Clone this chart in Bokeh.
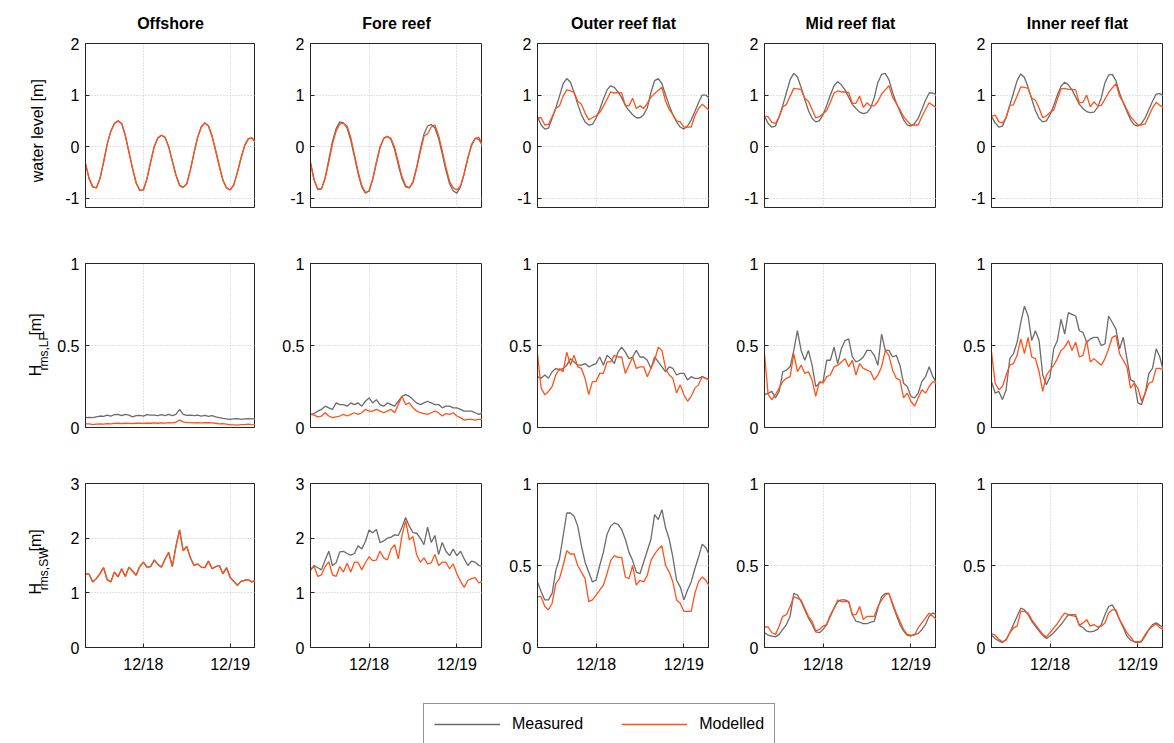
from datetime import datetime, timedelta

import numpy as np
from bokeh.plotting import figure
from bokeh.layouts import gridplot, column
from bokeh.models import (Range1d, FixedTicker, DatetimeTickFormatter,
                          NumeralTickFormatter, Legend, LegendItem)
from bokeh.core.properties import value
from bokeh.embed import file_html
from bokeh.resources import INLINE

# ---------------------------------------------------------------- data
# hourly records, 17 Dec 08:00 -> 19 Dec 07:00
sites = ["Offshore", "Fore reef", "Outer reef flat", "Mid reef flat", "Inner reef flat"]
tick_days = ["12/18", "12/19"]

# water level [m]
wl_offshore_mod = [-0.33, -0.62, -0.78, -0.80, -0.62, -0.30, 0.05, 0.30, 0.45, 0.50, 0.45, 0.22,
                   -0.10, -0.42, -0.70, -0.85, -0.84, -0.62, -0.30, 0.00, 0.17, 0.22, 0.18, 0.00,
                   -0.28, -0.55, -0.75, -0.79, -0.72, -0.45, -0.12, 0.18, 0.38, 0.46, 0.40, 0.20,
                   -0.08, -0.38, -0.65, -0.80, -0.84, -0.74, -0.50, -0.22, 0.02, 0.15, 0.17, 0.08]
# the model is forced with the offshore record, so both coincide there
wl_offshore_meas = list(wl_offshore_mod)
wl_fore_meas = [-0.30, -0.65, -0.83, -0.82, -0.60, -0.25, 0.10, 0.35, 0.48, 0.46, 0.36, 0.12,
                -0.20, -0.52, -0.78, -0.90, -0.86, -0.64, -0.32, -0.02, 0.16, 0.20, 0.14, -0.06,
                -0.36, -0.62, -0.78, -0.80, -0.68, -0.40, -0.06, 0.24, 0.40, 0.43, 0.36, 0.16,
                -0.14, -0.46, -0.72, -0.86, -0.90, -0.78, -0.52, -0.22, 0.04, 0.16, 0.14, 0.02]
wl_fore_mod = [-0.33, -0.65, -0.82, -0.82, -0.62, -0.30, 0.05, 0.30, 0.44, 0.45, 0.40, 0.18,
               -0.15, -0.48, -0.75, -0.89, -0.86, -0.62, -0.30, 0.00, 0.16, 0.20, 0.16, -0.02,
               -0.30, -0.58, -0.76, -0.80, -0.70, -0.42, -0.10, 0.20, 0.25, 0.38, 0.42, 0.22,
               -0.08, -0.40, -0.67, -0.80, -0.84, -0.76, -0.52, -0.22, 0.02, 0.16, 0.18, 0.03]
wl_outer_meas = [0.58, 0.42, 0.34, 0.36, 0.55, 0.75, 0.98, 1.22, 1.32, 1.25, 1.05, 0.82,
                 0.62, 0.48, 0.42, 0.43, 0.55, 0.72, 0.92, 1.10, 1.18, 1.15, 1.06, 0.95,
                 0.80, 0.70, 0.62, 0.56, 0.56, 0.62, 0.75, 1.05, 1.28, 1.32, 1.22, 1.00,
                 0.80, 0.62, 0.48, 0.38, 0.34, 0.40, 0.52, 0.68, 0.85, 1.00, 1.00, 0.93]
wl_outer_mod = [0.56, 0.56, 0.42, 0.43, 0.58, 0.74, 0.79, 0.98, 1.10, 1.08, 1.05, 0.88,
                0.82, 0.65, 0.52, 0.56, 0.60, 0.66, 0.78, 0.92, 1.06, 1.04, 1.05, 1.04,
                0.80, 0.79, 0.94, 0.74, 0.79, 0.74, 0.84, 0.96, 1.03, 1.09, 1.15, 0.88,
                0.72, 0.62, 0.50, 0.48, 0.38, 0.38, 0.38, 0.60, 0.74, 0.82, 0.76, 0.70]
wl_mid_meas = [0.59, 0.45, 0.38, 0.40, 0.58, 0.80, 1.05, 1.30, 1.42, 1.35, 1.15, 0.92,
               0.70, 0.55, 0.48, 0.50, 0.62, 0.80, 1.00, 1.18, 1.26, 1.20, 1.10, 0.96,
               0.82, 0.74, 0.67, 0.64, 0.66, 0.75, 0.95, 1.25, 1.40, 1.42, 1.30, 1.05,
               0.85, 0.68, 0.52, 0.42, 0.40, 0.45, 0.55, 0.72, 0.90, 1.04, 1.04, 1.00]
wl_mid_mod = [0.59, 0.58, 0.47, 0.45, 0.58, 0.77, 0.82, 0.98, 1.13, 1.12, 1.11, 0.94,
              0.88, 0.72, 0.56, 0.58, 0.64, 0.70, 0.86, 1.04, 1.08, 1.06, 1.06, 1.05,
              0.84, 0.84, 0.98, 0.76, 0.85, 0.79, 0.79, 0.88, 1.02, 1.10, 1.18, 0.96,
              0.84, 0.72, 0.58, 0.50, 0.42, 0.42, 0.42, 0.58, 0.72, 0.85, 0.80, 0.76]
wl_inner_meas = [0.59, 0.46, 0.38, 0.40, 0.57, 0.80, 1.04, 1.28, 1.41, 1.34, 1.15, 0.92,
                 0.70, 0.55, 0.48, 0.50, 0.62, 0.80, 1.00, 1.17, 1.25, 1.20, 1.10, 0.96,
                 0.82, 0.74, 0.68, 0.66, 0.67, 0.76, 0.95, 1.24, 1.39, 1.40, 1.28, 1.04,
                 0.85, 0.68, 0.52, 0.42, 0.40, 0.45, 0.56, 0.72, 0.88, 1.02, 1.03, 0.98]
wl_inner_mod = [0.59, 0.61, 0.48, 0.46, 0.56, 0.80, 0.81, 0.98, 1.16, 1.15, 1.13, 0.94,
                0.90, 0.75, 0.56, 0.60, 0.66, 0.71, 0.92, 1.12, 1.13, 1.11, 1.11, 1.10,
                0.85, 0.86, 1.00, 0.77, 0.87, 0.79, 0.80, 0.92, 1.05, 1.14, 1.22, 0.98,
                0.86, 0.72, 0.58, 0.50, 0.42, 0.42, 0.44, 0.60, 0.75, 0.86, 0.80, 0.76]

# low-frequency wave height Hrms,LF [m]
lf_offshore_meas = [0.060, 0.062, 0.060, 0.065, 0.070, 0.068, 0.075, 0.070, 0.078, 0.080, 0.072, 0.080,
                    0.075, 0.065, 0.072, 0.074, 0.070, 0.078, 0.075, 0.076, 0.072, 0.078, 0.072, 0.080,
                    0.072, 0.080, 0.110, 0.080, 0.074, 0.076, 0.072, 0.076, 0.070, 0.074, 0.068, 0.072,
                    0.065, 0.060, 0.055, 0.052, 0.050, 0.052, 0.054, 0.050, 0.052, 0.054, 0.052, 0.054]
lf_offshore_mod = [0.022, 0.022, 0.018, 0.020, 0.022, 0.020, 0.024, 0.022, 0.025, 0.026, 0.024, 0.026,
                   0.025, 0.024, 0.026, 0.026, 0.025, 0.027, 0.026, 0.028, 0.026, 0.028, 0.027, 0.030,
                   0.028, 0.032, 0.045, 0.034, 0.030, 0.030, 0.028, 0.030, 0.028, 0.030, 0.029, 0.028,
                   0.026, 0.022, 0.024, 0.020, 0.016, 0.016, 0.015, 0.017, 0.018, 0.020, 0.017, 0.016]
lf_fore_meas = [0.08, 0.085, 0.10, 0.11, 0.13, 0.12, 0.11, 0.15, 0.14, 0.14, 0.13, 0.15,
                0.14, 0.15, 0.13, 0.16, 0.18, 0.15, 0.17, 0.14, 0.13, 0.15, 0.14, 0.13,
                0.16, 0.19, 0.20, 0.19, 0.17, 0.15, 0.14, 0.15, 0.16, 0.15, 0.14, 0.14,
                0.12, 0.13, 0.13, 0.12, 0.12, 0.11, 0.10, 0.10, 0.10, 0.09, 0.08, 0.09]
lf_fore_mod = [0.08, 0.075, 0.065, 0.07, 0.09, 0.07, 0.06, 0.065, 0.07, 0.08, 0.07, 0.08,
               0.09, 0.08, 0.09, 0.11, 0.10, 0.10, 0.11, 0.10, 0.09, 0.10, 0.11, 0.09,
               0.14, 0.19, 0.14, 0.15, 0.12, 0.10, 0.09, 0.085, 0.08, 0.09, 0.10, 0.09,
               0.07, 0.085, 0.08, 0.09, 0.07, 0.06, 0.045, 0.05, 0.05, 0.045, 0.05, 0.05]
lf_outer_meas = [0.31, 0.30, 0.32, 0.30, 0.34, 0.36, 0.35, 0.36, 0.38, 0.42, 0.40, 0.38,
                 0.38, 0.39, 0.37, 0.38, 0.39, 0.43, 0.38, 0.44, 0.42, 0.39, 0.46, 0.49,
                 0.46, 0.42, 0.43, 0.47, 0.43, 0.43, 0.41, 0.36, 0.43, 0.40, 0.37, 0.34,
                 0.37, 0.36, 0.32, 0.33, 0.33, 0.29, 0.31, 0.30, 0.30, 0.31, 0.30, 0.29]
lf_outer_mod = [0.45, 0.24, 0.20, 0.22, 0.25, 0.32, 0.36, 0.34, 0.46, 0.38, 0.44, 0.37,
                0.36, 0.30, 0.20, 0.28, 0.28, 0.33, 0.33, 0.40, 0.40, 0.44, 0.43, 0.43,
                0.33, 0.38, 0.43, 0.36, 0.37, 0.37, 0.31, 0.36, 0.41, 0.49, 0.47, 0.36,
                0.32, 0.30, 0.21, 0.26, 0.20, 0.16, 0.19, 0.24, 0.26, 0.31, 0.30, 0.29]
lf_mid_meas = [0.20, 0.21, 0.22, 0.18, 0.22, 0.34, 0.35, 0.37, 0.47, 0.59, 0.47, 0.41,
               0.47, 0.38, 0.25, 0.27, 0.28, 0.41, 0.41, 0.49, 0.39, 0.48, 0.53, 0.54,
               0.43, 0.40, 0.41, 0.43, 0.47, 0.47, 0.44, 0.38, 0.57, 0.47, 0.47, 0.43,
               0.44, 0.38, 0.27, 0.25, 0.19, 0.18, 0.21, 0.28, 0.31, 0.37, 0.31, 0.27]
lf_mid_mod = [0.45, 0.20, 0.17, 0.20, 0.24, 0.28, 0.30, 0.31, 0.45, 0.34, 0.38, 0.33,
              0.34, 0.29, 0.19, 0.28, 0.27, 0.31, 0.32, 0.37, 0.38, 0.40, 0.42, 0.37,
              0.41, 0.32, 0.39, 0.36, 0.35, 0.34, 0.29, 0.32, 0.37, 0.47, 0.44, 0.35,
              0.30, 0.29, 0.18, 0.21, 0.16, 0.13, 0.18, 0.23, 0.21, 0.25, 0.28, 0.27]
lf_inner_meas = [0.28, 0.21, 0.22, 0.17, 0.23, 0.42, 0.45, 0.52, 0.64, 0.74, 0.68, 0.53,
                 0.59, 0.53, 0.32, 0.26, 0.31, 0.48, 0.53, 0.66, 0.57, 0.70, 0.69, 0.68,
                 0.59, 0.58, 0.52, 0.54, 0.55, 0.55, 0.50, 0.51, 0.68, 0.64, 0.60, 0.48,
                 0.55, 0.42, 0.29, 0.28, 0.15, 0.14, 0.21, 0.33, 0.36, 0.48, 0.43, 0.34]
lf_inner_mod = [0.46, 0.27, 0.23, 0.25, 0.32, 0.38, 0.39, 0.44, 0.54, 0.45, 0.55, 0.43,
                0.42, 0.34, 0.22, 0.32, 0.35, 0.38, 0.42, 0.47, 0.49, 0.53, 0.47, 0.52,
                0.43, 0.44, 0.53, 0.40, 0.42, 0.40, 0.38, 0.42, 0.48, 0.55, 0.56, 0.45,
                0.41, 0.37, 0.24, 0.27, 0.24, 0.16, 0.21, 0.27, 0.28, 0.36, 0.36, 0.35]

# sea-swell wave height Hrms,SW [m]
sw_offshore_mod = [1.35, 1.34, 1.20, 1.26, 1.35, 1.46, 1.24, 1.20, 1.38, 1.29, 1.44, 1.30,
                   1.47, 1.40, 1.32, 1.48, 1.56, 1.47, 1.48, 1.60, 1.52, 1.47, 1.62, 1.74,
                   1.48, 1.85, 2.15, 1.77, 1.85, 1.64, 1.50, 1.53, 1.47, 1.46, 1.58, 1.44,
                   1.48, 1.50, 1.35, 1.46, 1.28, 1.21, 1.14, 1.21, 1.23, 1.24, 1.20, 1.23]
sw_offshore_meas = list(sw_offshore_mod)
sw_fore_meas = [1.41, 1.50, 1.46, 1.42, 1.60, 1.76, 1.50, 1.55, 1.75, 1.76, 1.72, 1.69,
                1.72, 1.86, 1.80, 1.94, 2.15, 2.10, 2.16, 1.92, 1.95, 2.00, 2.02, 2.06,
                2.05, 2.20, 2.38, 2.22, 2.10, 2.09, 2.00, 1.88, 2.20, 1.92, 2.05, 1.70,
                1.92, 1.76, 1.68, 1.80, 1.68, 1.76, 1.62, 1.50, 1.58, 1.56, 1.50, 1.48]
sw_fore_mod = [1.44, 1.48, 1.30, 1.33, 1.48, 1.57, 1.33, 1.30, 1.48, 1.38, 1.54, 1.38,
               1.56, 1.56, 1.42, 1.55, 1.66, 1.59, 1.60, 1.76, 1.64, 1.60, 1.80, 1.88,
               1.62, 2.05, 2.32, 1.97, 2.03, 1.70, 1.56, 1.64, 1.53, 1.55, 1.70, 1.50,
               1.56, 1.56, 1.44, 1.53, 1.35, 1.21, 1.10, 1.23, 1.26, 1.28, 1.18, 1.20]
sw_outer_meas = [0.40, 0.34, 0.29, 0.29, 0.33, 0.47, 0.54, 0.68, 0.82, 0.82, 0.80, 0.74,
                 0.62, 0.52, 0.46, 0.40, 0.41, 0.50, 0.58, 0.69, 0.74, 0.76, 0.75, 0.72,
                 0.66, 0.58, 0.53, 0.46, 0.45, 0.52, 0.59, 0.66, 0.81, 0.78, 0.84, 0.73,
                 0.66, 0.55, 0.41, 0.37, 0.29, 0.35, 0.40, 0.48, 0.55, 0.63, 0.61, 0.56]
sw_outer_mod = [0.31, 0.31, 0.25, 0.23, 0.27, 0.39, 0.42, 0.50, 0.59, 0.57, 0.57, 0.50,
                0.46, 0.42, 0.28, 0.29, 0.32, 0.35, 0.38, 0.45, 0.53, 0.56, 0.55, 0.55,
                0.43, 0.42, 0.50, 0.38, 0.41, 0.40, 0.44, 0.53, 0.57, 0.60, 0.62, 0.50,
                0.46, 0.40, 0.29, 0.27, 0.22, 0.22, 0.22, 0.33, 0.40, 0.43, 0.41, 0.37]
sw_mid_meas = [0.09, 0.075, 0.07, 0.065, 0.08, 0.11, 0.14, 0.19, 0.33, 0.32, 0.28, 0.23,
               0.18, 0.14, 0.095, 0.09, 0.11, 0.14, 0.19, 0.24, 0.28, 0.29, 0.29, 0.28,
               0.20, 0.16, 0.155, 0.145, 0.145, 0.155, 0.16, 0.24, 0.31, 0.33, 0.33, 0.26,
               0.20, 0.14, 0.10, 0.075, 0.07, 0.08, 0.085, 0.11, 0.14, 0.19, 0.21, 0.20]
sw_mid_mod = [0.125, 0.125, 0.09, 0.08, 0.13, 0.19, 0.20, 0.25, 0.31, 0.30, 0.29, 0.24,
              0.19, 0.16, 0.10, 0.11, 0.13, 0.14, 0.20, 0.24, 0.29, 0.28, 0.28, 0.28,
              0.20, 0.20, 0.25, 0.17, 0.19, 0.19, 0.19, 0.25, 0.29, 0.32, 0.33, 0.27,
              0.21, 0.16, 0.11, 0.08, 0.075, 0.075, 0.12, 0.15, 0.18, 0.21, 0.19, 0.17]
sw_inner_meas = [0.075, 0.055, 0.04, 0.03, 0.05, 0.09, 0.14, 0.19, 0.24, 0.23, 0.20, 0.16,
                 0.13, 0.10, 0.075, 0.055, 0.07, 0.09, 0.115, 0.14, 0.17, 0.20, 0.195, 0.19,
                 0.135, 0.12, 0.10, 0.095, 0.10, 0.11, 0.14, 0.20, 0.25, 0.26, 0.22, 0.17,
                 0.12, 0.07, 0.045, 0.035, 0.03, 0.035, 0.07, 0.11, 0.14, 0.15, 0.135, 0.12]
sw_inner_mod = [0.085, 0.075, 0.05, 0.035, 0.045, 0.09, 0.12, 0.13, 0.22, 0.22, 0.21, 0.17,
                0.14, 0.11, 0.08, 0.065, 0.09, 0.12, 0.145, 0.18, 0.21, 0.20, 0.20, 0.20,
                0.135, 0.15, 0.17, 0.13, 0.14, 0.125, 0.13, 0.15, 0.21, 0.23, 0.23, 0.17,
                0.13, 0.09, 0.065, 0.035, 0.035, 0.04, 0.08, 0.11, 0.13, 0.145, 0.12, 0.11]

# ---------------------------------------------------------------- style
FONT = "Liberation Sans"
GREY = "#6b6b6b"
ORANGE = "#ff5119"
FRAME = "#262626"

EPOCH = datetime(1970, 1, 1)


def ms(d):
    return (d - EPOCH).total_seconds() * 1000.0


start = datetime(2011, 12, 17, 8)
times = [ms(start + timedelta(hours=h)) for h in range(48)]
day_ticks = [ms(datetime(2011, 12, 18)), ms(datetime(2011, 12, 19))]

FRAME_W, FRAME_H = 172, 164
LABEL_W = 54          # strip holding the rotated y-axis titles
COL0_LEFT = 83 - LABEL_W
TOPS = [43, 28, 28]
BOTTOMS = [28, 28, 36]

# approximate Arial advance widths (em) used to lay out the composed y titles
ADV = {"H": 0.722, "r": 0.333, "m": 0.833, "s": 0.5, ",": 0.278, "L": 0.556,
       "F": 0.611, "S": 0.667, "W": 0.944, " ": 0.278, "[": 0.278, "]": 0.278,
       "w": 0.722, "a": 0.556, "t": 0.278, "e": 0.556, "l": 0.222, "v": 0.5}


def text_width(txt, size):
    return sum(ADV.get(c, 0.556) for c in txt) * size


def ylabel_strip(row, parts):
    """Narrow figure carrying one rotated y title built from
    (text, size, centre x, gap before) pieces; one data unit is one pixel.
    Each piece is anchored at its own centre."""
    h = TOPS[row] + FRAME_H + BOTTOMS[row]
    f = figure(width=LABEL_W, height=h, title=None,
               x_range=Range1d(0, LABEL_W), y_range=Range1d(0, h),
               toolbar_location=None, tools="", output_backend="svg",
               x_axis_type=None, y_axis_type=None, min_border=0)
    f.outline_line_color = None
    f.background_fill_color = "white"
    f.border_fill_color = "white"
    total = sum(gap + text_width(t, s) for t, s, _, gap in parts)
    y = BOTTOMS[row] + FRAME_H / 2 - total / 2
    for txt, size, cx, gap in parts:
        y += gap
        w = text_width(txt, size)
        f.text(x=[cx], y=[y + w / 2], text=[txt], angle=np.pi / 2,
               text_font=value(FONT), text_font_size=value(f"{size}px"),
               text_color="black", text_align="center", text_baseline="middle")
        y += w
    return f


def panel(row, col, meas, mod, y_lo, y_hi, yticks):
    left = COL0_LEFT if col == 0 else 55
    top, bottom = TOPS[row], BOTTOMS[row]
    p = figure(width=left + FRAME_W, height=top + FRAME_H + bottom,
               title=sites[col] if row == 0 else None,
               x_range=Range1d(times[0], times[-1]), y_range=Range1d(y_lo, y_hi),
               toolbar_location=None, tools="", output_backend="svg",
               min_border_left=left, min_border_right=0,
               min_border_top=top, min_border_bottom=bottom)
    p.background_fill_color = "white"
    p.border_fill_color = "white"
    p.outline_line_color = FRAME
    p.outline_line_width = 1
    p.outline_line_alpha = 1

    if row == 0:
        p.title.align = "center"
        p.title.text_font = FONT
        p.title.text_font_size = "16px"
        p.title.text_font_style = "bold"
        p.title.text_color = "black"
        p.title.standoff = 24

    p.line(times, meas, line_color=GREY, line_width=1.3)
    p.line(times, mod, line_color=ORANGE, line_width=1.3)

    xt = FixedTicker(ticks=day_ticks)
    yt = FixedTicker(ticks=yticks)
    p.xaxis.ticker = xt
    p.xgrid.ticker = xt
    p.yaxis.ticker = yt
    p.ygrid.ticker = yt
    p.xaxis.formatter = DatetimeTickFormatter(days="%m/%d", hours="%m/%d",
                                              hourmin="%m/%d", minutes="%m/%d")
    p.yaxis.formatter = NumeralTickFormatter(format="0.[0]")

    for ax in (p.xaxis[0], p.yaxis[0]):
        ax.major_tick_in = 4
        ax.major_tick_out = 0
        ax.minor_tick_line_color = None
        ax.major_tick_line_color = FRAME
        ax.axis_line_color = FRAME
        ax.major_label_text_font = FONT
        ax.major_label_text_font_size = "16px"
        ax.major_label_text_color = "black"
    p.yaxis.major_label_standoff = 6
    p.xaxis.major_label_standoff = 8
    if row < 2:
        # only the bottom row carries date labels
        p.xaxis.visible = False

    for g in (p.xgrid[0], p.ygrid[0]):
        g.grid_line_color = "#c4c4c4"
        g.grid_line_dash = "1 2"
        g.grid_line_width = 1
    return p


wl_rows = [(wl_offshore_meas, wl_offshore_mod), (wl_fore_meas, wl_fore_mod),
           (wl_outer_meas, wl_outer_mod), (wl_mid_meas, wl_mid_mod),
           (wl_inner_meas, wl_inner_mod)]
lf_rows = [(lf_offshore_meas, lf_offshore_mod), (lf_fore_meas, lf_fore_mod),
           (lf_outer_meas, lf_outer_mod), (lf_mid_meas, lf_mid_mod),
           (lf_inner_meas, lf_inner_mod)]
sw_rows = [(sw_offshore_meas, sw_offshore_mod), (sw_fore_meas, sw_fore_mod),
           (sw_outer_meas, sw_outer_mod), (sw_mid_meas, sw_mid_mod),
           (sw_inner_meas, sw_inner_mod)]

GAP = 7
row_wl = [ylabel_strip(0, [("water level [m]", 16, 37, 0)])]
row_wl += [panel(0, c, m, s, -1.18, 2, [-1, 0, 1, 2]) for c, (m, s) in enumerate(wl_rows)]
row_lf = [ylabel_strip(1, [("H", 16, 35, 0), ("rms,LF", 12, 43, 0.5), ("[m]", 16, 35, GAP)])]
row_lf += [panel(1, c, m, s, 0, 1, [0, 0.5, 1]) for c, (m, s) in enumerate(lf_rows)]
row_sw = [ylabel_strip(2, [("H", 16, 35, 0), ("rms,SW", 12, 43, 0.5), ("[m]", 16, 35, GAP)])]
row_sw += [panel(2, c, m, s, 0, 3, [0, 1, 2, 3]) if c < 2
           else panel(2, c, m, s, 0, 1, [0, 0.5, 1])
           for c, (m, s) in enumerate(sw_rows)]

grid = gridplot([row_wl, row_lf, row_sw], toolbar_location=None)

# legend strip below the panels; its two line renderers sit outside the view
total_w = LABEL_W + COL0_LEFT + FRAME_W + 4 * (55 + FRAME_W)
leg = figure(width=total_w, height=60, title=None,
             x_range=Range1d(0, 1), y_range=Range1d(0, 1),
             toolbar_location=None, tools="", output_backend="svg",
             x_axis_type=None, y_axis_type=None, min_border=0)
leg.outline_line_color = None
leg.background_fill_color = "white"
leg.border_fill_color = "white"
r_meas = leg.line(x=[5, 6], y=[5, 6], line_color=GREY, line_width=1.3)
r_mod = leg.line(x=[5, 6], y=[5, 6], line_color=ORANGE, line_width=1.3)
legend = Legend(items=[LegendItem(label="Measured", renderers=[r_meas]),
                       LegendItem(label="Modelled", renderers=[r_mod])],
                orientation="horizontal", location=(423, -2),
                glyph_width=66, glyph_height=20, label_standoff=12, spacing=38,
                padding=10, margin=0, label_text_font=FONT,
                label_text_font_size="16px", label_text_color="black",
                border_line_color=FRAME, border_line_width=1,
                background_fill_color="white")
leg.add_layout(legend)

layout = column(grid, leg)
open("out.html", "w").write(file_html(layout, INLINE))
